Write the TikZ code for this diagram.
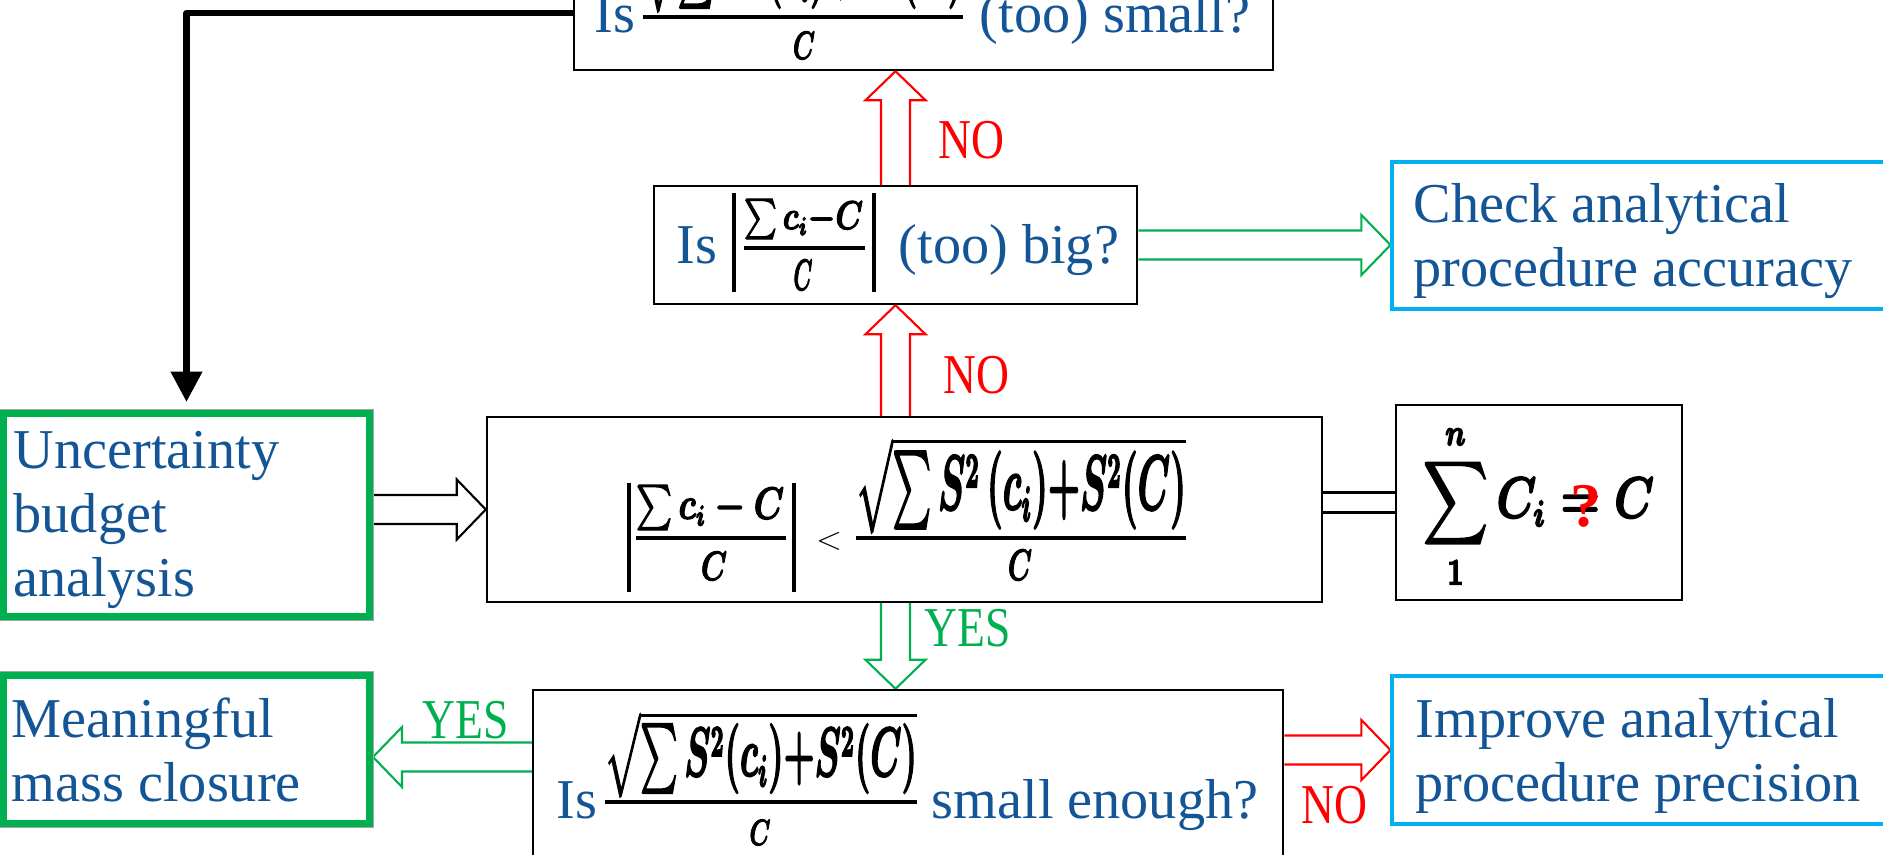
\documentclass[tikz,border=0pt]{standalone}
\usepackage{amsmath}
\usepackage{graphicx}
\usepackage{fontspec}
\setmainfont{Liberation Serif}
\usetikzlibrary{calc,fit,arrows.meta}
\definecolor{txtblue}{RGB}{20,85,150}
\definecolor{okgreen}{RGB}{0,176,80}
\definecolor{boxcyan}{RGB}{0,176,240}
\pgfdeclarelayer{bg}
\pgfsetlayers{bg,main}
\newcommand\sw{4.13pt}
\newcommand\hw{8.54pt}
\newcommand\hl{8.25pt}
% horizontal hollow arrow: colour, start, tip, sign (- = pointing right, + = pointing left)
\newcommand\harr[4]{\draw[arrline,draw=#1] let \p1=(#2), \p2=(#3) in
  (\x1,{\y1+\sw}) -- ({\x2#4\hl},{\y1+\sw}) -- ({\x2#4\hl},{\y1+\hw}) -- (\x2,\y1)
  -- ({\x2#4\hl},{\y1-\hw}) -- ({\x2#4\hl},{\y1-\sw}) -- (\x1,{\y1-\sw});}
% vertical hollow arrow: colour, start, tip, sign (- = pointing up, + = pointing down)
\newcommand\varr[4]{\draw[arrline,draw=#1] let \p1=(#2), \p2=(#3) in
  ({\x1+\sw},\y1) -- ({\x1+\sw},{\y2#4\hl}) -- ({\x1+\hw},{\y2#4\hl}) -- (\x1,\y2)
  -- ({\x1-\hw},{\y2#4\hl}) -- ({\x1-\sw},{\y2#4\hl}) -- ({\x1-\sw},\y1);}
% heavier glyphs: fill and stroke the outlines
\newcommand\heavy[1]{\special{pdf:literal direct 2 Tr 0.5 w}#1\special{pdf:literal direct 0 Tr}}
% bold math piece forced to a width and total height
\newcommand\fm[3]{\resizebox*{#1}{#2}{\heavy{\boldmath$#3$}}}
\newcommand\cond[1]{\scalebox{0.81}[1]{#1}}
\begin{document}
\begin{tikzpicture}[x=0.01cm,y=-0.01cm,
  font=\fontsize{16}{18.2}\selectfont,
  box/.style={draw=black, line width=0.7pt, fill=white, inner sep=0pt},
  gbox/.style={draw=okgreen, line width=2pt, fill=white, inner sep=0pt,
     preaction={draw=gray!70, line width=2.6pt}},
  cbox/.style={draw=boxcyan, line width=0.9pt, fill=white, inner sep=0pt},
  txt/.style={text=txtblue, inner sep=0pt, anchor=base west},
  mth/.style={inner sep=0pt, anchor=center},
  fbar/.style={line width=1.1pt},
  arrline/.style={line width=0.6pt, fill=white, miter limit=10},
  lbl/.style={inner sep=0pt},
  feedback/.style={line width=1.8pt, line join=round,
     -{Triangle[width=8.6pt,length=8.6pt]}, shorten >=2.3pt}]
\useasboundingbox (0,0) rectangle (1883,854);

% boxes
\node[box,  fit={(574,-44) (1273,70)}]   (tb)   {};
\node[box,  fit={(654,186) (1137,304)}]  (b2)   {};
\node[cbox, fit={(1392,162) (1900,309)}] (chk)  {};
\node[gbox, fit={(3.5,413.5) (369.5,616.5)}] (unc) {};
\node[box,  fit={(487,417) (1322,602)}]  (main) {};
\node[box,  fit={(1396,405) (1682,600)}] (sum)  {};
\node[gbox, fit={(3.5,675.5) (369.5,823.5)}] (mean) {};
\node[box,  fit={(533,690) (1283,900)}]  (bot)  {};
\node[cbox, fit={(1392,676) (1900,824)}] (imp)  {};

% top box: Is sqrt(...)/C (too) small?
\node[txt] (tbis) at (594,32) {Is};
\node[mth] (tbn) at (803,-31) {\fm{3.2cm}{0.86cm}{\sqrt{\sum S^2\,(c_i){+}S^2\,(C)}}};
\draw[fbar] (643,17) -- (963,17);
\node[mth] (tbd) at (804,45.5) {\fm{0.22cm}{0.27cm}{C}};
\node[txt] (tbr)  at (979,32) {(too) small?};

% second box: Is |(sum c_i - C)/C| (too) big?
\node[txt] (b2is) at (676,263) {Is};
\draw[fbar] (734,193) -- (734,292);
\node[mth] (b2n) at (803.5,219) {\fm{1.19cm}{0.40cm}{\sum c_i{-}C}};
\draw[fbar] (744,248) -- (865,248);
\node[mth] (b2d) at (803,275) {\fm{0.19cm}{0.30cm}{C}};
\draw[fbar] (874,193) -- (874,292);
\node[txt] (b2r)  at (898,263) {(too) big?};

% main box
\draw[fbar] (629,483) -- (629,592);
\node[mth] (mn1) at (710,507.5) {\fm{1.48cm}{0.45cm}{\sum c_i - C}};
\draw[fbar] (636,538) -- (786,538);
\node[mth] (md1) at (714,566) {\fm{0.26cm}{0.28cm}{C}};
\draw[fbar] (794,483) -- (794,592);
\node[mth] (mlt) at (829,541) {\resizebox*{0.26cm}{0.18cm}{$<$}};
\node[mth] (mn2) at (1021,485) {\fm{3.3cm}{0.96cm}{\sqrt{\sum S^2\,(c_i){+}S^2(C)}}};
\draw[fbar] (856,538) -- (1186,538);
\node[mth] (md2) at (1020,565) {\fm{0.24cm}{0.30cm}{C}};

% sum box
\node[mth] (sumt) at (1538.5,506.5) {\fm{2.31cm}{1.67cm}{\displaystyle\sum_{1}^{n} C_i = C}};
\node[mth, text=red] (qm) at (1586,506) {\resizebox*{!}{0.42cm}{\bfseries ?}};

% bottom box: Is sqrt(...)/C small enough?
\node[txt] (botis) at (556,818) {Is};
\node[mth] (botn) at (761,754) {\fm{3.12cm}{0.86cm}{\sqrt{\sum S^2(c_i){+}S^2(C)}}};
\draw[fbar] (605,802) -- (917,802);
\node[mth] (botd) at (760,832.5) {\fm{0.21cm}{0.25cm}{C}};
\node[txt] (botr)  at (931,818) {small enough?};

% plain text boxes
\node[txt] (chkt) at (1413,222) {\begin{tabular}[t]{@{}l@{}}Check analytical\\procedure accuracy\end{tabular}};
\node[txt] (unct) at (13,468) {\begin{tabular}[t]{@{}l@{}}Uncertainty\\budget\\analysis\end{tabular}};
\node[txt] (meant) at (11,737) {\begin{tabular}[t]{@{}l@{}}Meaningful\\mass closure\end{tabular}};
\node[txt] (impt) at (1415,737) {\begin{tabular}[t]{@{}l@{}}Improve analytical\\procedure precision\end{tabular}};

% labels
\node[lbl, text=red]     (no1)  at (971,140) {\cond{NO}};
\node[lbl, text=red]     (no2)  at (976,375) {\cond{NO}};
\node[lbl, text=okgreen] (yes1) at (968,628) {\cond{YES}};
\node[lbl, text=okgreen] (yes2) at (466,720) {\cond{YES}};
\node[lbl, text=red]     (no3)  at (1334,805) {\cond{NO}};

% connectors
\begin{pgfonlayer}{bg}
\harr{okgreen}{b2.east}{b2.east -| chk.west}{-}
\harr{black}{unc.east |- main.west}{main.west}{-}
\varr{red}{main.north -| b2.south}{b2.south}{-}
\varr{red}{b2.north}{b2.north |- tb.south}{-}
\varr{okgreen}{main.south -| b2.south}{bot.north -| b2.south}{+}
\harr{okgreen}{$(bot.west |- mean.east)+(0,7.5)$}{$(mean.east)+(0,7.5)$}{+}
\harr{red}{bot.east |- imp.west}{imp.west}{-}
\draw[line width=0.6pt, double, double distance=5.1pt] (main.east |- sum.west) -- (sum.west);
\draw[feedback] (tb.west) -| (unc.north);
\end{pgfonlayer}
\end{tikzpicture}
\end{document}
